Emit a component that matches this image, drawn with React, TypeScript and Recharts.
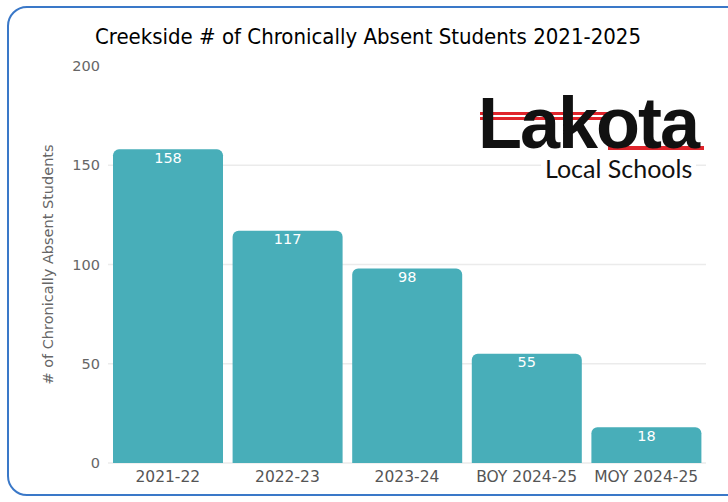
import { BarChart, Bar, XAxis, YAxis, CartesianGrid, LabelList } from 'recharts';

const seasons = ['2021-22', '2022-23', '2023-24', 'BOY 2024-25', 'MOY 2024-25'];
const absentCounts = [158, 117, 98, 55, 18];
const yTicks = [0, 50, 100, 150, 200];
const gridValues = [0, 50, 100, 150];

const BAR_COLOR = '#48aeb9';

export default function App() {
  const chartData = seasons.map((name, i) => ({ name, count: absentCounts[i] }));

  return (
    <div style={{ position: 'relative', width: 728, height: 502, overflow: 'hidden', background: '#fff' }}>
      <style>{'body{margin:0}'}</style>
      <div
        style={{
          position: 'absolute',
          left: 7,
          top: 6,
          width: 740,
          height: 490,
          border: '2px solid #3a78c8',
          borderRadius: 20,
          boxSizing: 'border-box',
        }}
      />
      <div
        style={{
          position: 'absolute',
          left: 0,
          width: 736,
          top: 24,
          textAlign: 'center',
          fontFamily: '"DejaVu Sans Condensed", sans-serif',
          fontSize: 22,
          color: '#000',
        }}
      >
        Creekside # of Chronically Absent Students 2021-2025
      </div>
      <div style={{ position: 'absolute', left: 0, top: 0 }}>
        <BarChart width={728} height={502} data={chartData} margin={{ top: 66, right: 22, left: 48, bottom: 0 }} barCategoryGap={5}>
          <CartesianGrid vertical={false} stroke="#ebebeb" strokeWidth={1.5} horizontalValues={gridValues} />
          <XAxis
            dataKey="name"
            height={39}
            axisLine={false}
            tickLine={false}
            tick={{ fontSize: 15.5, fill: '#555', fontFamily: 'DejaVu Sans' }}
            interval={0}
          />
          <YAxis
            width={60}
            domain={[0, 200]}
            ticks={yTicks}
            axisLine={false}
            tickLine={false}
            tick={{ fontSize: 14.5, fill: '#666', fontFamily: 'DejaVu Sans' }}
            label={{
              value: '# of Chronically Absent Students',
              angle: -90,
              position: 'insideLeft',
              offset: 0,
              style: { textAnchor: 'middle', fontSize: 14.5, fill: '#666', fontFamily: 'DejaVu Sans' },
            }}
          />
          <Bar dataKey="count" fill={BAR_COLOR} radius={[6, 6, 0, 0]} isAnimationActive={false}>
            <LabelList dataKey="count" position="insideTop" offset={3} fill="#fff" fontSize={14.5} fontFamily="DejaVu Sans" />
          </Bar>
        </BarChart>
      </div>
      <div style={{ position: 'absolute', left: 478, top: 84, width: 230, height: 100 }}>
        <div style={{ position: 'absolute', left: 2, top: 28, width: 128, height: 8, background: '#e0242b' }} />
        <div style={{ position: 'absolute', left: 2, top: 31, width: 128, height: 2, background: '#fff' }} />
        <div style={{ position: 'absolute', left: 130, top: 62, width: 96, height: 4, background: '#e0242b' }} />
        <div
          style={{
            position: 'absolute',
            left: 0,
            top: 11,
            fontFamily: '"Liberation Sans", Arial, sans-serif',
            fontWeight: 900,
            fontSize: 72,
            lineHeight: '56px',
            letterSpacing: -2,
            color: '#111',
          }}
        >
          Lakota
        </div>
        <div
          style={{
            position: 'absolute',
            left: 63,
            top: 70,
            padding: '0 4px',
            background: '#fff',
            fontFamily: 'Lato, sans-serif',
            fontSize: 25,
            lineHeight: '28px',
            color: '#111',
          }}
        >
          Local Schools
        </div>
      </div>
    </div>
  );
}
